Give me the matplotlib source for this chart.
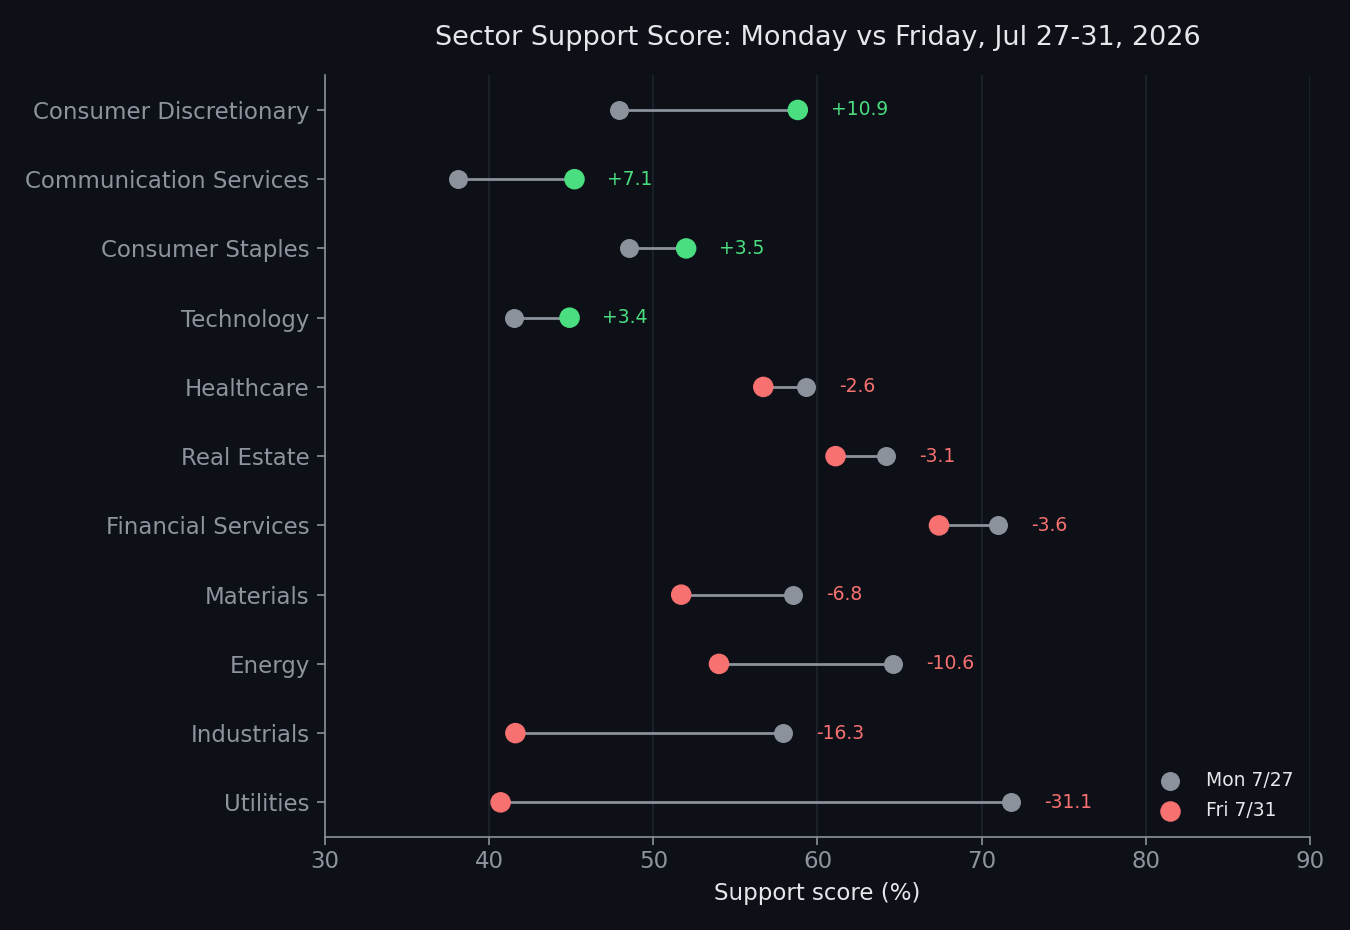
import matplotlib
matplotlib.use("Agg")
import matplotlib.pyplot as plt

sectors = ["Consumer Discretionary", "Communication Services", "Consumer Staples",
           "Technology", "Healthcare", "Real Estate", "Financial Services",
           "Materials", "Energy", "Industrials", "Utilities"]
mon = [47.9, 38.1, 48.5, 41.5, 59.3, 64.2, 71.0, 58.5, 64.6, 57.9, 71.8]
fri = [58.8, 45.2, 52.0, 44.9, 56.7, 61.1, 67.4, 51.7, 54.0, 41.6, 40.7]

BG = "#0d1017"
GRAY = "#8b929c"
GREEN = "#4ade80"
RED = "#f87171"
TXT = "#e5e7eb"
TICK = "#8e949e"

fig = plt.figure(figsize=(13.5, 9.3), dpi=100, facecolor=BG)
ax = fig.add_axes([0.2407, 0.1, 0.7297, 0.819], facecolor=BG)

n = len(sectors)
ys = list(range(n))[::-1]
for y, m, f in zip(ys, mon, fri):
    ax.plot([m, f], [y, y], color=GRAY, lw=2, zorder=2)
ax.scatter(mon, ys, s=160, color=GRAY, zorder=3, label="Mon 7/27")
fri_colors = [GREEN if f > m else RED for m, f in zip(mon, fri)]
ax.scatter(fri, ys, s=190, color=fri_colors, zorder=4, label="Fri 7/31")
for y, m, f in zip(ys, mon, fri):
    d = f - m
    c = GREEN if d > 0 else RED
    ax.text(max(m, f) + 2, y, f"{d:+.1f}", color=c, fontsize=13.5, va="center", ha="left")

ax.set_xlim(30, 90)
ax.set_ylim(-0.5, n - 0.5)
ax.set_yticks(ys)
ax.set_yticklabels(sectors)
ax.set_xticks(range(30, 91, 10))
ax.tick_params(axis="both", colors=GRAY, labelcolor=TICK, labelsize=16.5, length=6, width=1.2)
ax.tick_params(axis="y", pad=5)
ax.grid(axis="x", color="#1f232b", lw=1.2)
ax.set_axisbelow(True)
for s in ["top", "right"]:
    ax.spines[s].set_visible(False)
for s in ["left", "bottom"]:
    ax.spines[s].set_color(GRAY)
    ax.spines[s].set_linewidth(1.2)
ax.set_xlabel("Support score (%)", color=TXT, fontsize=16.5, labelpad=6)
ax.set_title("Sector Support Score: Monday vs Friday, Jul 27-31, 2026", color=TXT, fontsize=19.5, pad=22)

leg = ax.legend(loc="lower right", frameon=False, fontsize=13.5, labelcolor=TXT,
                handletextpad=0.9, markerscale=1.0, borderaxespad=0.5, labelspacing=0.6)
leg.legend_handles[1].set_color(RED)

fig.savefig("out.png", dpi=100, facecolor=BG)
